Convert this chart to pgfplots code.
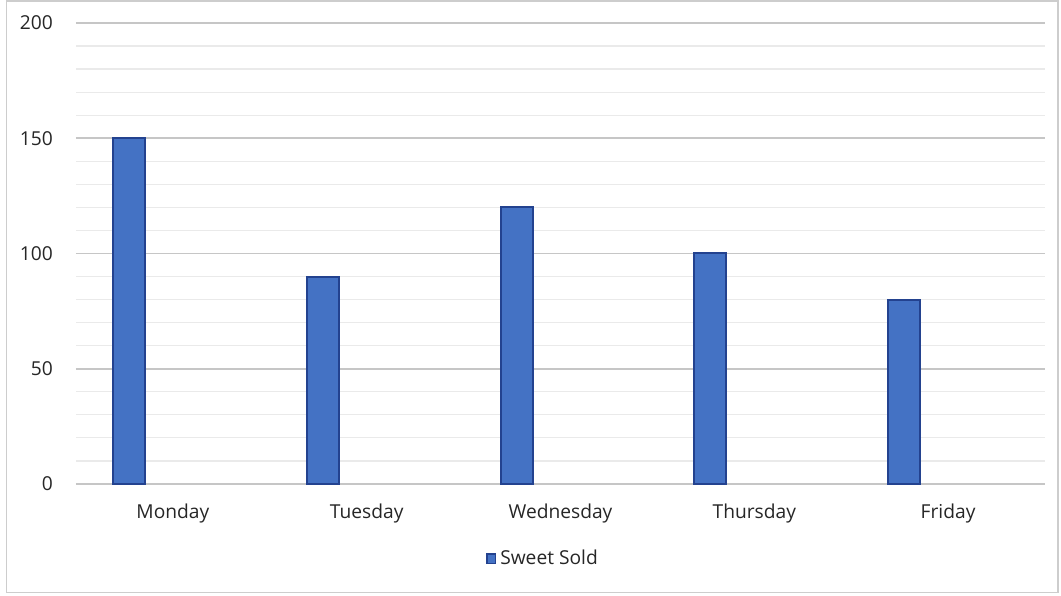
\documentclass[border=0pt]{standalone}
\usepackage{pgfplots}
\pgfplotsset{compat=1.18}
\usepackage{fontspec}
\setmainfont{Open Sans}
\definecolor{barfill}{HTML}{4472C4}
\definecolor{baredge}{HTML}{23428F}
\definecolor{majgrid}{HTML}{C6C6C6}
\definecolor{mingrid}{HTML}{EAEAEA}
\begin{document}
\begin{tikzpicture}
\useasboundingbox (0,0) rectangle (530.5pt,297.5pt);
\draw[draw={rgb,255:red,205;green,205;blue,205}, line width=0.8pt] (3.2pt,1.2pt) rectangle (529pt,297pt);
\begin{axis}[
  at={(38pt,55.5pt)}, anchor=south west,
  scale only axis, width=484.5pt, height=230.5pt,
  xmin=-0.5, xmax=4.5, ymin=0, ymax=200,
  xtick={0,1,2,3,4},
  xticklabels={Monday,Tuesday,Wednesday,Thursday,Friday},
  ytick={0,50,100,150,200},
  minor y tick num=4,
  ymajorgrids, yminorgrids,
  major grid style={draw=majgrid, line width=0.8pt},
  minor grid style={draw=mingrid, line width=0.6pt},
  axis line style={draw=none},
  major tick length=0pt, minor tick length=0pt,
  tick style={draw=none},
  ticklabel style={font=\fontsize{9.6}{11}\selectfont, text=black!85},
  /pgf/number format/assume math mode=true,
  yticklabel style={xshift=-8pt},
  xticklabel style={yshift=-6.5pt},
  ybar, bar width=16pt, bar shift=-22pt,
  legend style={at={(0.483,-0.163)}, anchor=center, draw=none, fill=none,
    font=\fontsize{9.6}{11}\selectfont, text=black!85},
  legend image code/.code={\draw[#1, line width=0.8pt] (0.5pt,-2.2pt) rectangle (4.7pt,2.6pt);},
  clip=false,
]
\addplot[fill=barfill, draw=baredge, line width=1pt] coordinates {(0,150) (1,90) (2,120) (3,100) (4,80)};
\addlegendentry{Sweet Sold}
\end{axis}
\end{tikzpicture}
\end{document}
